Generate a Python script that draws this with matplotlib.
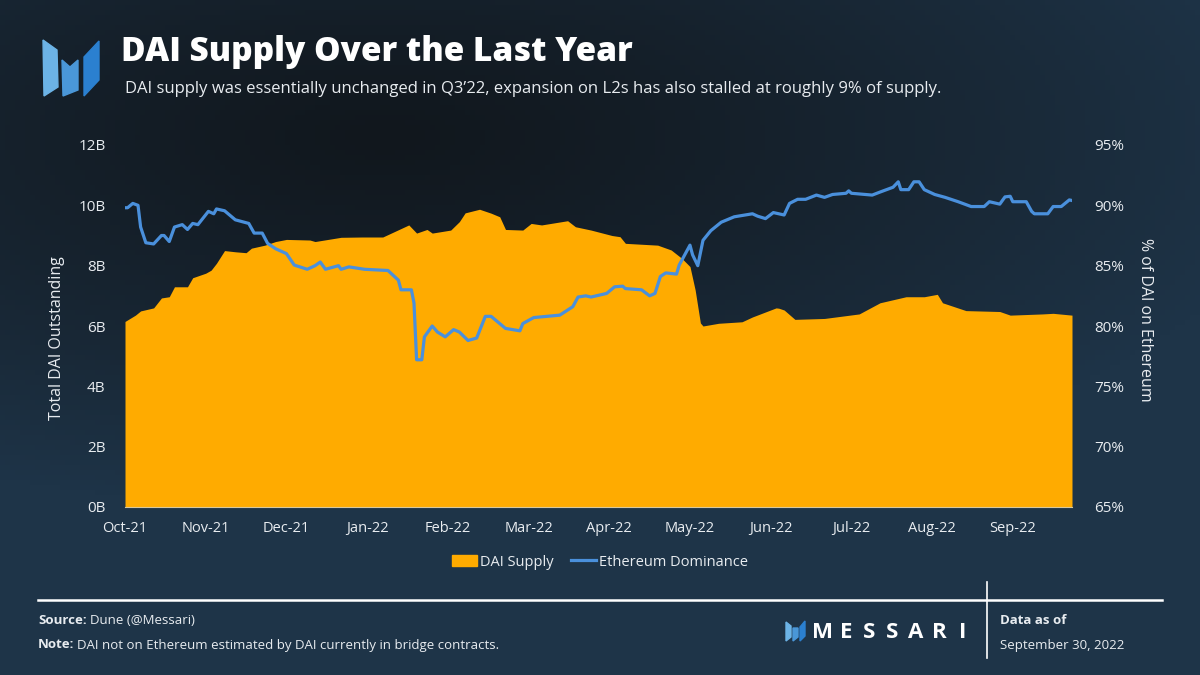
import numpy as np
import pandas as pd
import matplotlib
matplotlib.use('Agg')
import matplotlib.pyplot as plt
from matplotlib.patches import Polygon, Patch
from matplotlib.lines import Line2D

plt.rcParams['font.family'] = ['Open Sans', 'DejaVu Sans']

# DAI supply (billions)
supply_dates = ["2021-10-01", "2021-10-05", "2021-10-07", "2021-10-12", "2021-10-15", "2021-10-18",
                "2021-10-20", "2021-10-25", "2021-10-27", "2021-11-01", "2021-11-03", "2021-11-05",
                "2021-11-08", "2021-11-12", "2021-11-16", "2021-11-18", "2021-11-23", "2021-11-27",
                "2021-12-01", "2021-12-10", "2021-12-12", "2021-12-22", "2021-12-30", "2022-01-07",
                "2022-01-17", "2022-01-20", "2022-01-24", "2022-01-26", "2022-02-02", "2022-02-05",
                "2022-02-07", "2022-02-12", "2022-02-16", "2022-02-19", "2022-02-21", "2022-02-27",
                "2022-03-02", "2022-03-06", "2022-03-16", "2022-03-19", "2022-03-25", "2022-04-02",
                "2022-04-05", "2022-04-07", "2022-04-19", "2022-04-24", "2022-04-28", "2022-05-01",
                "2022-05-03", "2022-05-05", "2022-05-06", "2022-05-12", "2022-05-21", "2022-05-25",
                "2022-06-03", "2022-06-04", "2022-06-06", "2022-06-10", "2022-06-21", "2022-07-04",
                "2022-07-12", "2022-07-22", "2022-07-29", "2022-08-03", "2022-08-05", "2022-08-14",
                "2022-08-27", "2022-08-31", "2022-09-12", "2022-09-16", "2022-09-23"]
supply = [6.15, 6.36, 6.5, 6.6, 6.93, 6.97,
          7.3, 7.3, 7.6, 7.75, 7.85, 8.08,
          8.5, 8.46, 8.43, 8.58, 8.68, 8.8,
          8.87, 8.85, 8.8, 8.94, 8.95, 8.95,
          9.35, 9.08, 9.2, 9.08, 9.18, 9.46,
          9.75, 9.87, 9.74, 9.62, 9.2, 9.18,
          9.4, 9.35, 9.49, 9.29, 9.18, 9.0,
          8.96, 8.74, 8.68, 8.52, 8.24, 7.97,
          7.19, 6.1, 6.0, 6.09, 6.14, 6.3,
          6.6, 6.59, 6.53, 6.22, 6.25, 6.4,
          6.77, 6.97, 6.97, 7.05, 6.77, 6.51,
          6.48, 6.36, 6.4, 6.42, 6.36]

# share of DAI on Ethereum (%)
dom_dates = ["2021-10-01", "2021-10-02", "2021-10-04", "2021-10-06", "2021-10-07", "2021-10-09",
             "2021-10-12", "2021-10-15", "2021-10-16", "2021-10-18", "2021-10-20", "2021-10-23",
             "2021-10-25", "2021-10-27", "2021-10-29", "2021-11-02", "2021-11-04", "2021-11-05",
             "2021-11-08", "2021-11-12", "2021-11-17", "2021-11-19", "2021-11-22", "2021-11-24",
             "2021-11-27", "2021-12-01", "2021-12-04", "2021-12-09", "2021-12-12", "2021-12-14",
             "2021-12-16", "2021-12-21", "2021-12-22", "2021-12-25", "2021-12-31", "2022-01-09",
             "2022-01-13", "2022-01-14", "2022-01-18", "2022-01-19", "2022-01-20", "2022-01-22",
             "2022-01-23", "2022-01-26", "2022-01-28", "2022-01-31", "2022-02-03", "2022-02-05",
             "2022-02-08", "2022-02-11", "2022-02-14", "2022-02-16", "2022-02-21", "2022-02-26",
             "2022-02-27", "2022-03-03", "2022-03-13", "2022-03-18", "2022-03-20", "2022-03-23",
             "2022-03-25", "2022-03-31", "2022-04-03", "2022-04-06", "2022-04-07", "2022-04-13",
             "2022-04-16", "2022-04-18", "2022-04-20", "2022-04-22", "2022-04-26", "2022-04-27",
             "2022-05-01", "2022-05-02", "2022-05-04", "2022-05-06", "2022-05-09", "2022-05-13",
             "2022-05-18", "2022-05-25", "2022-05-27", "2022-05-30", "2022-06-02", "2022-06-06",
             "2022-06-08", "2022-06-11", "2022-06-14", "2022-06-18", "2022-06-21", "2022-06-24",
             "2022-06-29", "2022-06-30", "2022-07-01", "2022-07-09", "2022-07-12", "2022-07-17",
             "2022-07-19", "2022-07-20", "2022-07-23", "2022-07-25", "2022-07-27", "2022-07-29",
             "2022-08-02", "2022-08-06", "2022-08-11", "2022-08-16", "2022-08-21", "2022-08-23",
             "2022-08-27", "2022-08-29", "2022-08-31", "2022-09-01", "2022-09-06", "2022-09-08",
             "2022-09-09", "2022-09-14", "2022-09-16", "2022-09-19", "2022-09-22", "2022-09-23"]
dominance = [89.8, 89.8, 90.16, 90.0, 88.2, 86.9,
             86.8, 87.5, 87.5, 87.0, 88.2, 88.4,
             88.0, 88.5, 88.4, 89.5, 89.3, 89.7,
             89.55, 88.8, 88.5, 87.7, 87.7, 86.85,
             86.4, 86.0, 85.05, 84.7, 85.0, 85.3,
             84.7, 85.0, 84.7, 84.9, 84.7, 84.6,
             83.8, 83.0, 83.0, 81.9, 77.2, 77.2,
             79.1, 80.0, 79.5, 79.1, 79.7, 79.5,
             78.8, 79.0, 80.8, 80.8, 79.8, 79.6,
             80.2, 80.7, 80.9, 81.6, 82.4, 82.5,
             82.4, 82.7, 83.25, 83.3, 83.1, 83.0,
             82.5, 82.7, 84.1, 84.4, 84.3, 85.05,
             86.7, 85.9, 85.0, 87.1, 87.9, 88.6,
             89.05, 89.3, 89.1, 88.9, 89.4, 89.2,
             90.16, 90.5, 90.5, 90.85, 90.66, 90.9,
             91.0, 91.2, 91.0, 90.85, 91.1, 91.5,
             91.95, 91.3, 91.3, 91.95, 91.95, 91.3,
             90.9, 90.66, 90.3, 89.9, 89.9, 90.3,
             90.1, 90.7, 90.75, 90.3, 90.3, 89.5,
             89.3, 89.3, 89.9, 89.9, 90.45, 90.4]

month_labels = ["Oct-21", "Nov-21", "Dec-21", "Jan-22", "Feb-22", "Mar-22",
                "Apr-22", "May-22", "Jun-22", "Jul-22", "Aug-22", "Sep-22"]
left_ticks = [0, 2, 4, 6, 8, 10, 12]
right_ticks = [65, 70, 75, 80, 85, 90, 95]

ORANGE = "#FFAB00"
BLUE = "#4A90DC"
TXT = "#E8ECF0"


def month_pos(d):
    # months are spaced evenly on this axis
    d = pd.Timestamp(d)
    m = (d.year - 2021) * 12 + d.month - 10
    return m + (d.day - 1) / d.days_in_month


xs = np.array([month_pos(d) for d in supply_dates])
xd = np.array([month_pos(d) for d in dom_dates])

fig = plt.figure(figsize=(12, 6.75), dpi=100)

# background gradient: darkest up-left of centre, bluer toward bottom and right
bg = fig.add_axes([0, 0, 1, 1], zorder=-10)
gx, gy = np.meshgrid(np.linspace(0, 1, 240), np.linspace(0, 1, 135))
d = np.sqrt(((gx - 0.32) / 1.1) ** 2 + ((gy - 0.2) / 0.8) ** 2)
t = np.clip(d / 0.7, 0, 1) ** 1.2
c0 = np.array([17, 23, 29]) / 255
c1 = np.array([30, 52, 72]) / 255
img = c0 + (c1 - c0) * t[..., None]
bg.imshow(img, extent=[0, 1, 0, 1], aspect='auto', origin='upper')
bg.set_xlim(0, 1)
bg.set_ylim(0, 1)
bg.axis('off')

ax = fig.add_axes([125 / 1200, 1 - 507 / 675, (1072 - 125) / 1200, (507 - 145) / 675])
ax.patch.set_alpha(0)
ax.fill_between(xs, supply, 0, color=ORANGE, lw=0, zorder=2)
ax.set_xlim(xs[0], xs[-1])
ax.set_ylim(0, 12)
ax.set_yticks(left_ticks)
ax.set_yticklabels([f"{v}B" for v in left_ticks])
ax.set_xticks(range(12))
ax.set_xticklabels(month_labels)
for s in ['top', 'right', 'left']:
    ax.spines[s].set_visible(False)
ax.spines['bottom'].set_color("#d9c89a")
ax.spines['bottom'].set_linewidth(0.8)
ax.tick_params(length=0, colors=TXT, labelsize=10.5)
ax.tick_params(axis='x', pad=10)
ax.tick_params(axis='y', pad=14, labelsize=11)
ax.set_ylabel("Total DAI Outstanding", color=TXT, fontsize=11.5)
ax.yaxis.set_label_coords(-0.063, 0.467)

ax2 = ax.twinx()
ax2.plot(xd, dominance, color=BLUE, lw=2.3, zorder=3)
ax2.set_ylim(65, 95)
ax2.set_yticks(right_ticks)
ax2.set_yticklabels([f"{v}%" for v in right_ticks])
for s in ax2.spines.values():
    s.set_visible(False)
ax2.tick_params(length=0, colors=TXT, labelsize=11, pad=16)
ax2.set_ylabel("% of DAI on Ethereum", color=TXT, fontsize=11.5, rotation=-90, va='center')
ax2.yaxis.set_label_coords(1.077, 0.517)

handles = [Patch(color=ORANGE, label="DAI Supply"),
           Line2D([0], [0], color=BLUE, lw=2.3, label="Ethereum Dominance")]
fig.legend(handles=handles, loc='center', bbox_to_anchor=(0.5, 1 - 562 / 675), ncol=2,
           frameon=False, fontsize=10.5, labelcolor=TXT, handlelength=1.7,
           handletextpad=0.2, columnspacing=1.2)

# header
logo = fig.add_axes([0, 0, 1, 1], zorder=5)
logo.set_xlim(0, 1200)
logo.set_ylim(675, 0)
logo.axis('off')
logo.add_patch(Polygon([(43, 40), (57, 50), (58, 87), (44, 96)], color="#6CB3E6"))
logo.add_patch(Polygon([(62, 60), (70, 67), (78, 60), (78, 90), (63, 96)], color="#4A97D8"))
logo.add_patch(Polygon([(84, 57), (99, 41), (99, 80), (84, 96)], color="#2B80D0"))

logo.text(121, 52, "DAI Supply Over the Last Year", color="white", fontsize=24,
          fontweight='heavy', va='center', ha='left')
logo.text(125, 89, "DAI supply was essentially unchanged in Q3\u201922, expansion on L2s has also "
          "stalled at roughly 9% of supply.", color=TXT, fontsize=12, va='center', ha='left')

# footer
logo.plot([38, 1162], [600, 600], color="white", lw=1.8)
logo.plot([987, 987], [582, 658], color="white", lw=1.2)
foot = ['Open Sans', 'DejaVu Sans']
logo.text(38, 620, "Source:", color=TXT, fontsize=9.5, fontweight='bold', va='center', family=foot)
logo.text(90, 620, "Dune (@Messari)", color=TXT, fontsize=9.5, va='center', family=foot)
logo.text(38, 645, "Note:", color=TXT, fontsize=9.5, fontweight='bold', va='center', family=foot)
logo.text(77, 645, "DAI not on Ethereum estimated by DAI currently in bridge contracts.",
          color=TXT, fontsize=9.5, va='center', family=foot)
logo.text(1000, 620, "Data as of", color=TXT, fontsize=9.5, fontweight='bold', va='center', family=foot)
logo.text(1000, 645, "September 30, 2022", color=TXT, fontsize=9.5, va='center', family=foot)

logo.add_patch(Polygon([(786, 622), (791, 626), (791, 637), (786, 641)], color="#6CB3E6"))
logo.add_patch(Polygon([(793, 628), (798, 628), (798, 637), (793, 641)], color="#4A97D8"))
logo.add_patch(Polygon([(800, 627), (805, 621), (805, 636), (800, 641)], color="#2B80D0"))
for i, ch in enumerate("MESSARI"):
    logo.text(823 + i * 23.2, 632, ch, color="white", fontsize=16, fontweight='bold',
              va='center', ha='center')

fig.savefig("out.png", dpi=100)
